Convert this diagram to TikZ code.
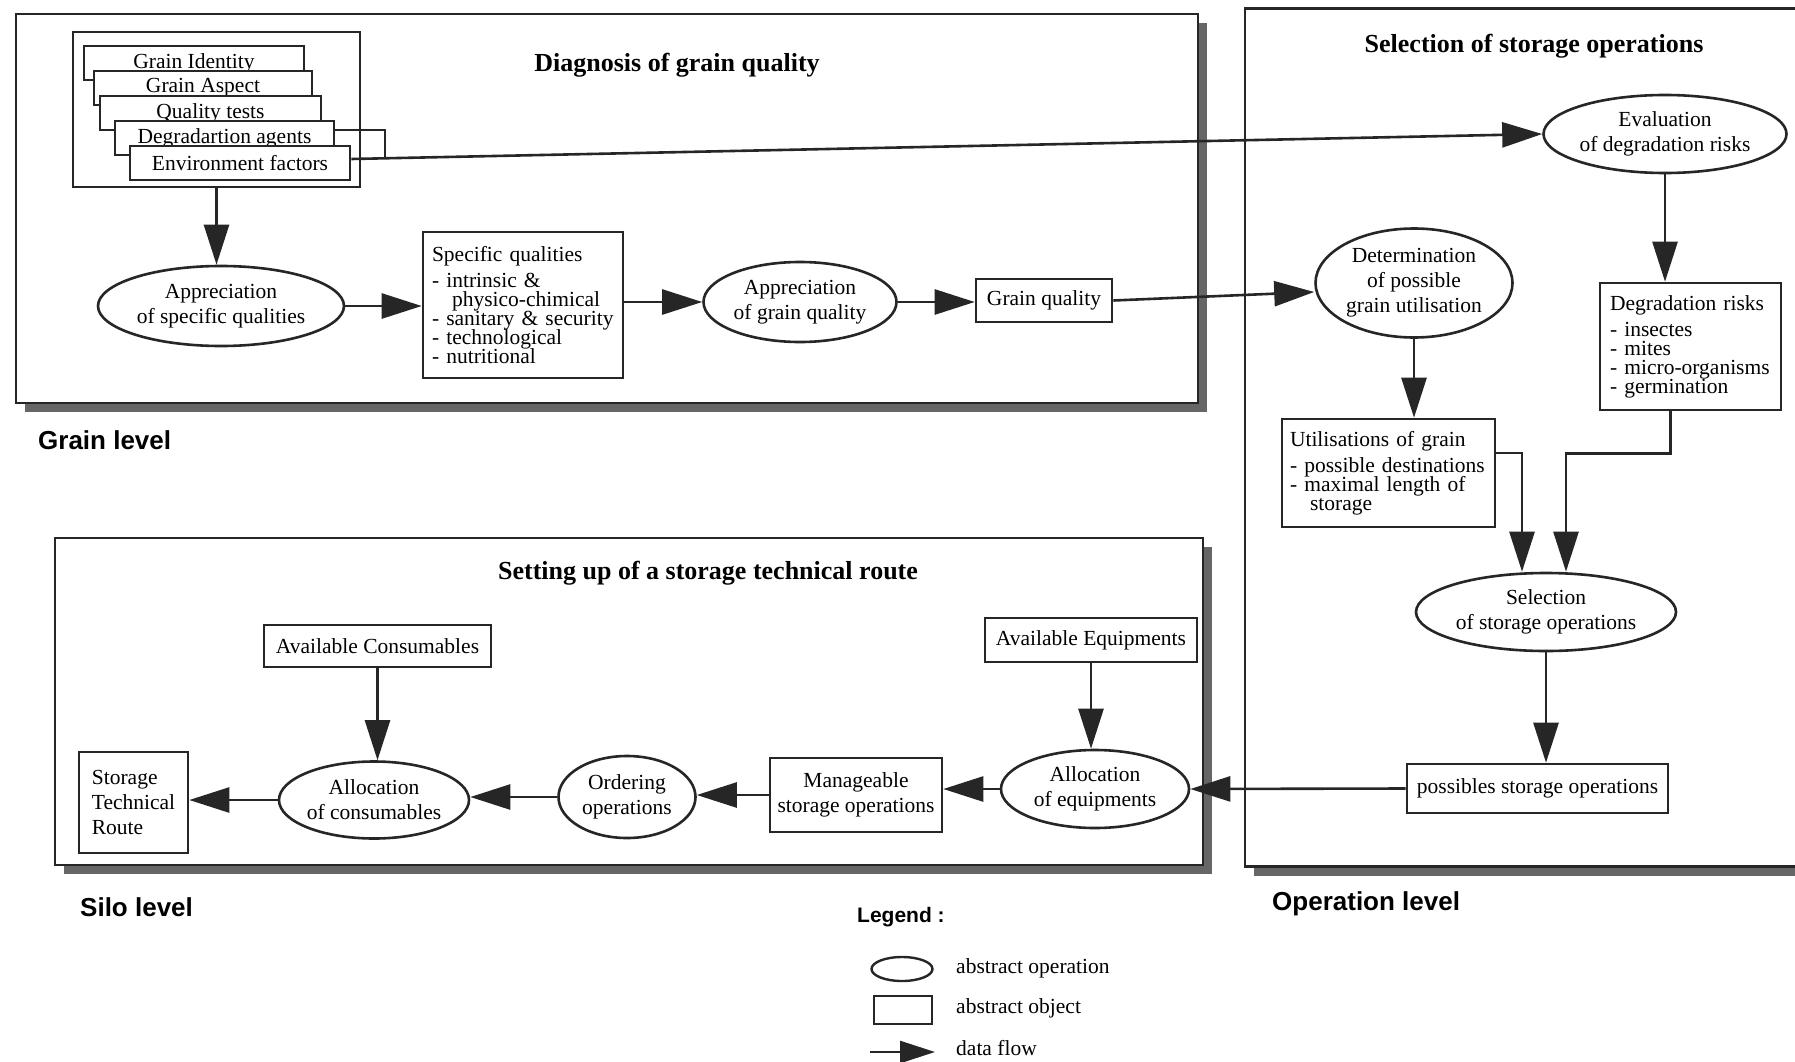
\documentclass[tikz,border=0pt]{standalone}
\usepackage{fontspec}
\setmainfont{Liberation Serif}
\newfontfamily\labfont{Liberation Sans}
\usetikzlibrary{shapes.geometric,arrows.meta,shadows,calc}
\newcommand\bodyfnt{\fontsize{21.5}{25}\selectfont\lineskiplimit=-30pt\relax}
\newcommand\listfnt{\fontsize{21.5}{19}\selectfont\lineskiplimit=-30pt\hyphenpenalty=10000\exhyphenpenalty=10000\relax}
\newcommand\titlefnt{\fontsize{26}{30}\selectfont\bfseries}
\newcommand\labfnt{\labfont\fontsize{26}{30}\selectfont\bfseries}
\newcommand\legfnt{\labfont\fontsize{21}{24}\selectfont\bfseries}
\begin{document}
\begin{tikzpicture}[x=1pt,y=-1pt,
  every node/.style={font=\bodyfnt},
  frame/.style={draw=black!85, line width=2.8pt, fill=white, rectangle, inner sep=0pt,
    drop shadow={shadow xshift=9pt, shadow yshift=-9pt, fill=black!60, opacity=1}},
  obj/.style={draw=black!85, line width=2.6pt, fill=white, rectangle, inner sep=4pt, align=center},
  listbox/.style={draw=black!85, line width=2.6pt, fill=white, rectangle, inner sep=10pt, align=left, font=\listfnt},
  op/.style={draw=black!85, line width=2.6pt, fill=white, ellipse, inner sep=0pt, align=center},
  title/.style={font=\titlefnt, inner sep=0pt},
  level/.style={font=\labfnt, inner sep=0pt, anchor=west},
  plain/.style={draw=black!85, line width=2.6pt},
  flow/.style={draw=black!85, line width=2.6pt, -{Triangle[length=40pt,width=25pt]}},
  legtxt/.style={inner sep=0pt, anchor=west}]
\useasboundingbox (0,0) rectangle (1795,1062);
\clip (0,0) rectangle (1795,1062);

% frames
\node[frame, minimum width=1182pt, minimum height=389pt] (grainframe) at (607,208.5) {};
\node[frame, minimum width=565pt, minimum height=858pt] (opframe) at (1527.5,437.5) {};
\node[frame, minimum width=1148pt, minimum height=327pt] (siloframe) at (629,701.5) {};

% titles
\node[title] (t1) at (677,65) {Diagnosis of grain quality};
\node[title] (t2) at (1534,46) {Selection of storage operations};
\node[title] (t3) at (708,573) {Setting up of a storage technical route};

% level labels
\node[level] (lgrain) at (38,440) {Grain level};
\node[level] (lsilo) at (80,907) {Silo level};
\node[level] (lop) at (1272,904) {Operation level};

% grain level
\node[obj, inner sep=0pt, minimum width=287pt, minimum height=155pt] (group) at (216.5,109.5) {};
\node[obj, inner sep=0pt, minimum width=220pt, minimum height=34pt] (gi) at (194,63) {Grain Identity};
\node[obj, inner sep=0pt, minimum width=218pt, minimum height=34pt] (ga) at (203,88) {Grain Aspect};
\node[obj, inner sep=0pt, minimum width=221pt, minimum height=34pt] (qt) at (210.5,113) {Quality tests};
\node[obj, inner sep=0pt, minimum width=219pt, minimum height=34pt] (da) at (224.5,138) {Degradartion agents};
\node[obj, inner sep=0pt, minimum width=220pt, minimum height=34pt] (ef) at (240,163) {Environment factors};

\node[op, minimum width=246pt, minimum height=80pt] (apspec) at (221,306) {Appreciation\\of specific qualities};
\node[listbox, inner sep=9pt, minimum width=200pt, minimum height=146pt, text width=182pt] (spec) at (523,305)
  {Specific qualities\\[7pt]- intrinsic \&\\\hspace*{20pt}physico-chimical\\- sanitary \& security\\- technological\\- nutritional};
\node[op, minimum width=193pt, minimum height=80pt] (apgq) at (800,302) {Appreciation\\of grain quality};
\node[obj, minimum width=136pt, minimum height=43pt] (gq) at (1044,300.5) {Grain quality};

% operation level
\node[op, minimum width=243pt, minimum height=78pt] (evalr) at (1665,134) {Evaluation\\of degradation risks};
\node[op, minimum width=197pt, minimum height=109pt] (det) at (1414,283) {Determination\\of possible\\grain utilisation};
\node[listbox, minimum width=181pt, minimum height=127pt, text width=161pt] (degr) at (1690.5,346.5)
  {Degradation risks\\[7pt]- insectes\\- mites\\- micro-organisms\\- germination};
\node[listbox, inner sep=8pt, minimum width=213pt, minimum height=108pt, text width=197pt] (util) at (1388.5,473)
  {Utilisations of grain\\[7pt]- possible destinations\\- maximal length of\\\hspace*{20pt}storage};
\node[op, minimum width=260pt, minimum height=78pt] (sel) at (1546,612) {Selection\\of storage operations};
\node[obj, minimum width=261pt, minimum height=49pt] (poss) at (1537.5,788.5) {possibles storage operations};

% silo level
\node[obj, minimum width=212pt, minimum height=44pt] (ae) at (1091,640) {Available Equipments};
\node[op, minimum width=188pt, minimum height=78pt] (alloceq) at (1095,789) {Allocation\\of equipments};
\node[obj, minimum width=172pt, minimum height=74pt] (manage) at (856,795) {Manageable\\storage operations};
\node[op, minimum width=137pt, minimum height=82pt] (ord) at (627,797) {Ordering\\operations};
\node[obj, minimum width=227pt, minimum height=42pt] (acons) at (377.5,646) {Available Consumables};
\node[op, minimum width=190pt, minimum height=77pt] (cons) at (374,800) {Allocation\\of consumables};
\node[obj, align=left, minimum width=109pt, minimum height=101pt] (stor) at (133.5,802.5) {Storage\\Technical\\Route};

% connectors
\coordinate (jn) at (385,158.3);
\draw[plain] ([yshift=8pt]da.east) -| (jn);
\draw[flow] ([yshift=4pt]ef.east) -- (evalr.west);
\draw[flow] (group.south) -- (group.south |- apspec.north);
\draw[flow] (apspec.east) -- (apspec.east -| spec.west);
\draw[flow] (spec.east |- apgq.west) -- (apgq.west);
\draw[flow] (apgq.east) -- (apgq.east -| gq.west);
\draw[flow] (gq.east) -- ([yshift=-9pt]det.west);
\draw[flow] (evalr.south) -- (evalr.south |- degr.north);
\draw[flow] (det.south) -- (det.south |- util.north);
\draw[flow] ([yshift=20pt]util.east) -| ([xshift=-24pt]sel.north);
\draw[flow] ([xshift=-20pt]degr.south) -- ++(0,42) -| ([xshift=20pt]sel.north);
\draw[flow] (sel.south) -- (sel.south |- poss.north);
\draw[flow] (poss.west) -- (alloceq.east);
\draw[flow] (ae.south) -- (ae.south |- alloceq.north);
\draw[flow] (alloceq.west) -- (alloceq.west -| manage.east);
\draw[flow] (manage.west) -- (manage.west -| ord.east);
\draw[flow] (ord.west) -- (ord.west -| cons.east);
\draw[flow] (acons.south) -- (acons.south |- cons.north);
\draw[flow] (cons.west) -- (cons.west -| stor.east);

% legend
\node[font=\legfnt, inner sep=0pt, anchor=west] (leg) at (857,917) {Legend :};
\node[op, line width=2.4pt, minimum width=61pt, minimum height=24pt] (legop) at (902,969) {};
\node[legtxt] (legoptxt) at (956,968) {abstract operation};
\node[obj, line width=2.4pt, inner sep=0pt, minimum width=58pt, minimum height=28pt] (legobj) at (903,1010) {};
\node[legtxt] (legobjtxt) at (956,1008) {abstract object};
\coordinate (legA) at (870,1052);
\coordinate (legB) at (935,1052);
\draw[plain, -{Triangle[length=35pt,width=22pt]}] (legA) -- (legB);
\node[legtxt] (legflowtxt) at (956,1048) {data flow};
\end{tikzpicture}
\end{document}
